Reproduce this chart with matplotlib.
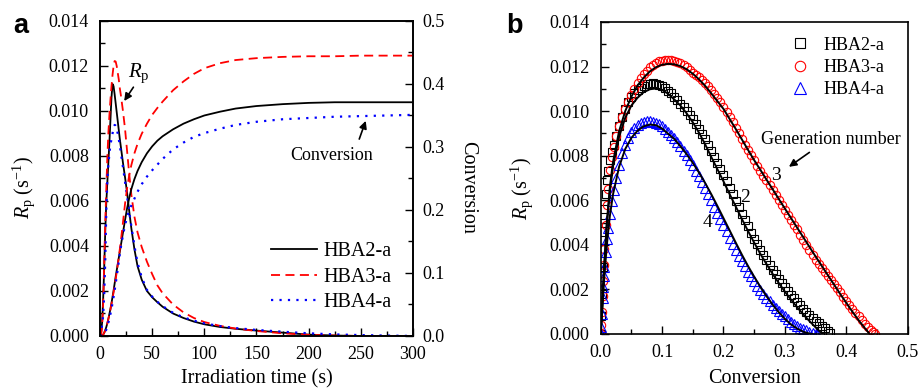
import numpy as np
import matplotlib
matplotlib.use('Agg')
import matplotlib.pyplot as plt
from matplotlib.ticker import MultipleLocator, FormatStrFormatter

plt.rcParams['font.family'] = ['Liberation Serif', 'DejaVu Serif']
plt.rcParams['mathtext.fontset'] = 'custom'
plt.rcParams['mathtext.rm'] = 'Liberation Serif'
plt.rcParams['mathtext.it'] = 'Liberation Serif:italic'

# ---- panel a : Rp (x1e-3 s^-1) and conversion vs irradiation time ----
t = [0, 1, 2, 3, 4, 5, 6, 7, 8, 9, 10, 11, 12, 13, 14, 15, 16, 17, 18, 19, 20,
     22, 24, 26, 28, 30, 33, 36, 40, 45, 50, 55, 60, 70, 80, 90, 100,
     115, 130, 150, 175, 200, 225, 250, 275, 300]

rp2 = [0.0, 0.1, 0.6, 1.6, 3.0, 4.6, 5.9, 6.8, 7.7, 8.6, 9.6, 10.6, 11.2, 11.1, 10.75, 10.35, 9.95, 9.55, 9.15, 8.75, 8.4,
       7.7, 7.05, 6.35, 5.55, 4.8, 3.85, 3.1, 2.5, 2.0, 1.72, 1.5, 1.3, 1.0, 0.8, 0.64, 0.52,
       0.4, 0.32, 0.24, 0.15, 0.06, 0.02, 0.0, 0.0, 0.0]
rp3 = [0.0, 0.05, 0.4, 1.4, 3.2, 5.0, 6.5, 7.9, 9.0, 9.8, 10.5, 11.1, 11.6, 12.0, 12.22, 12.2, 12.0, 11.7, 11.4, 11.0, 10.7,
       10.0, 9.2, 8.2, 7.2, 6.3, 5.3, 4.6, 3.95, 3.3, 2.75, 2.25, 1.9, 1.4, 1.05, 0.8, 0.62,
       0.45, 0.33, 0.22, 0.12, 0.05, 0.02, 0.0, 0.0, 0.0]
rp4 = [0.0, 0.1, 0.5, 0.9, 1.8, 3.3, 5.5, 6.9, 7.6, 8.1, 8.5, 8.75, 9.0, 9.25, 9.38, 9.35, 9.2, 9.0, 8.75, 8.45, 8.15,
       7.5, 6.85, 6.2, 5.5, 4.9, 4.0, 3.25, 2.6, 2.05, 1.75, 1.52, 1.33, 1.03, 0.83, 0.68, 0.56,
       0.44, 0.35, 0.27, 0.19, 0.12, 0.07, 0.04, 0.02, 0.0]

conv2 = [0.0, 0.0, 0.001, 0.002, 0.005, 0.009, 0.014, 0.020, 0.027, 0.035, 0.043, 0.052, 0.062, 0.072, 0.083, 0.094, 0.104, 0.114, 0.124, 0.134, 0.144,
         0.164, 0.184, 0.203, 0.219, 0.233, 0.249, 0.262, 0.276, 0.290, 0.301, 0.310, 0.317, 0.328, 0.337, 0.344, 0.350,
         0.356, 0.361, 0.365, 0.368, 0.370, 0.371, 0.371, 0.371, 0.371]
conv3 = [0.0, 0.0, 0.001, 0.002, 0.005, 0.009, 0.014, 0.020, 0.027, 0.034, 0.042, 0.051, 0.060, 0.069, 0.079, 0.090, 0.101, 0.113, 0.125, 0.138, 0.151,
         0.180, 0.210, 0.235, 0.255, 0.271, 0.290, 0.305, 0.321, 0.337, 0.351, 0.362, 0.372, 0.390, 0.404, 0.416, 0.425,
         0.433, 0.438, 0.441, 0.443, 0.444, 0.444, 0.445, 0.445, 0.445]
conv4 = [0.0, 0.0, 0.0, 0.001, 0.003, 0.006, 0.010, 0.015, 0.021, 0.028, 0.035, 0.043, 0.052, 0.062, 0.072, 0.083, 0.094, 0.106, 0.118, 0.130, 0.141,
         0.160, 0.176, 0.189, 0.199, 0.207, 0.218, 0.229, 0.241, 0.253, 0.263, 0.272, 0.281, 0.296, 0.307, 0.316, 0.322,
         0.329, 0.335, 0.340, 0.344, 0.346, 0.348, 0.349, 0.350, 0.351]

# ---- panel b : Rp (x1e-3) vs conversion, measured points ----
x2 = [0.0, 0.001, 0.002, 0.003, 0.004, 0.005, 0.006, 0.008, 0.010, 0.012, 0.015, 0.018, 0.021, 0.025,
      0.030, 0.035, 0.040, 0.045, 0.050, 0.055, 0.060, 0.065, 0.070, 0.075, 0.080, 0.085, 0.090, 0.095,
      0.100, 0.105, 0.110, 0.115, 0.120, 0.125, 0.130, 0.135, 0.140, 0.145, 0.150, 0.155, 0.160, 0.165,
      0.170, 0.175, 0.180, 0.185, 0.190, 0.195, 0.200, 0.205, 0.210, 0.215, 0.220, 0.225, 0.230, 0.235,
      0.240, 0.245, 0.250, 0.255, 0.260, 0.265, 0.270, 0.275, 0.280, 0.285, 0.290, 0.295, 0.300, 0.305,
      0.310, 0.315, 0.320, 0.325, 0.330, 0.335, 0.340, 0.345, 0.350, 0.355, 0.360, 0.365, 0.370, 0.374]
y2 = [0.0, 0.8, 1.8, 3.0, 4.2, 5.0, 5.6, 6.3, 6.9, 7.3, 7.8, 8.15, 8.5, 8.9,
      9.35, 9.75, 10.1, 10.4, 10.62, 10.8, 10.95, 11.06, 11.15, 11.21, 11.24, 11.25, 11.23, 11.18,
      11.11, 11.02, 10.92, 10.8, 10.65, 10.49, 10.33, 10.17, 10.0, 9.82, 9.63, 9.43, 9.21, 8.98,
      8.74, 8.49, 8.23, 7.96, 7.69, 7.41, 7.13, 6.85, 6.56, 6.27, 5.98, 5.69, 5.40, 5.11,
      4.83, 4.55, 4.28, 4.02, 3.77, 3.53, 3.30, 3.08, 2.87, 2.67, 2.48, 2.29, 2.11, 1.93,
      1.76, 1.60, 1.44, 1.29, 1.14, 1.00, 0.86, 0.73, 0.60, 0.48, 0.37, 0.26, 0.14, 0.03]

x3 = [0.0, 0.001, 0.002, 0.003, 0.004, 0.005, 0.006, 0.008, 0.010, 0.012, 0.015, 0.018, 0.021, 0.025,
      0.030, 0.035, 0.040, 0.045, 0.050, 0.055, 0.060, 0.065, 0.070, 0.075, 0.080, 0.085, 0.090, 0.095,
      0.100, 0.105, 0.110, 0.115, 0.120, 0.125, 0.130, 0.135, 0.140, 0.145, 0.150, 0.155, 0.160, 0.165,
      0.170, 0.175, 0.180, 0.185, 0.190, 0.195, 0.200, 0.205, 0.210, 0.215, 0.220, 0.225, 0.230, 0.235,
      0.240, 0.245, 0.250, 0.255, 0.260, 0.265, 0.270, 0.275, 0.280, 0.285, 0.290, 0.295, 0.300, 0.305,
      0.310, 0.315, 0.320, 0.325, 0.330, 0.335, 0.340, 0.345, 0.350, 0.355, 0.360, 0.365, 0.370, 0.375,
      0.380, 0.385, 0.390, 0.395, 0.400, 0.405, 0.410, 0.415, 0.420, 0.425, 0.430, 0.435, 0.440, 0.443, 0.446]
y3 = [0.0, 0.4, 1.0, 1.7, 2.4, 3.1, 3.8, 4.9, 5.8, 6.5, 7.35, 7.95, 8.4, 8.9,
      9.35, 9.75, 10.1, 10.42, 10.72, 11.0, 11.25, 11.47, 11.66, 11.82, 11.96, 12.07, 12.16, 12.23,
      12.27, 12.29, 12.30, 12.29, 12.26, 12.21, 12.14, 12.06, 11.96, 11.85, 11.73, 11.63, 11.52, 11.39,
      11.26, 11.11, 10.95, 10.78, 10.60, 10.40, 10.20, 9.98, 9.74, 9.50, 9.25, 9.00, 8.75, 8.50,
      8.25, 8.02, 7.79, 7.56, 7.33, 7.11, 6.89, 6.67, 6.45, 6.23, 6.01, 5.79, 5.57, 5.35,
      5.13, 4.91, 4.69, 4.46, 4.23, 4.00, 3.77, 3.54, 3.33, 3.14, 2.95, 2.77, 2.59, 2.41,
      2.23, 2.05, 1.87, 1.68, 1.50, 1.31, 1.12, 0.95, 0.79, 0.63, 0.47, 0.31, 0.16, 0.07, 0.01]

x4 = [0.0, 0.001, 0.002, 0.003, 0.004, 0.005, 0.006, 0.008, 0.010, 0.012, 0.015, 0.018, 0.021, 0.025,
      0.030, 0.035, 0.040, 0.045, 0.050, 0.055, 0.060, 0.065, 0.070, 0.075, 0.080, 0.085, 0.090, 0.095,
      0.100, 0.105, 0.110, 0.115, 0.120, 0.125, 0.130, 0.135, 0.140, 0.145, 0.150, 0.155, 0.160, 0.165,
      0.170, 0.175, 0.180, 0.185, 0.190, 0.195, 0.200, 0.205, 0.210, 0.215, 0.220, 0.225, 0.230, 0.235,
      0.240, 0.245, 0.250, 0.255, 0.260, 0.265, 0.270, 0.275, 0.280, 0.285, 0.290, 0.295, 0.300, 0.305,
      0.310, 0.315, 0.320, 0.325, 0.330, 0.335, 0.340, 0.345, 0.350, 0.353]
y4 = [0.0, 0.3, 0.9, 1.6, 2.1, 2.6, 3.0, 3.7, 4.25, 4.75, 5.4, 5.95, 6.45, 7.0,
      7.6, 8.1, 8.5, 8.8, 9.05, 9.25, 9.38, 9.47, 9.53, 9.56, 9.56, 9.53, 9.48, 9.41,
      9.32, 9.21, 9.08, 8.94, 8.78, 8.61, 8.43, 8.23, 8.02, 7.80, 7.57, 7.33, 7.08, 6.82,
      6.55, 6.28, 6.00, 5.72, 5.44, 5.16, 4.88, 4.60, 4.32, 4.05, 3.78, 3.52, 3.27, 3.03,
      2.80, 2.58, 2.37, 2.17, 1.98, 1.80, 1.63, 1.47, 1.32, 1.18, 1.04, 0.91, 0.79, 0.67,
      0.56, 0.46, 0.37, 0.29, 0.22, 0.16, 0.11, 0.06, 0.02, 0.0]

# model curves (black lines)
fx2 = [0.0, 0.002, 0.005, 0.01, 0.015, 0.02, 0.03, 0.04, 0.05, 0.06, 0.07, 0.08, 0.09, 0.10, 0.11, 0.12,
       0.13, 0.14, 0.15, 0.16, 0.17, 0.18, 0.19, 0.20, 0.21, 0.22, 0.23, 0.24, 0.25, 0.26, 0.27, 0.28,
       0.29, 0.30, 0.31, 0.32, 0.33, 0.34, 0.35, 0.358, 0.362]
fy2 = [0.0, 0.9, 2.6, 4.9, 6.4, 7.5, 8.85, 9.7, 10.25, 10.6, 10.85, 10.98, 11.02, 10.95, 10.78, 10.52,
       10.25, 9.9, 9.5, 9.04, 8.52, 7.95, 7.4, 6.85, 6.28, 5.72, 5.16, 4.62, 4.1, 3.6, 3.14, 2.7,
       2.29, 1.9, 1.54, 1.2, 0.88, 0.58, 0.3, 0.08, 0.0]
fx3 = [0.0, 0.002, 0.005, 0.01, 0.015, 0.02, 0.03, 0.04, 0.05, 0.06, 0.07, 0.08, 0.09, 0.10, 0.11, 0.12,
       0.13, 0.14, 0.15, 0.16, 0.17, 0.18, 0.19, 0.20, 0.21, 0.22, 0.23, 0.24, 0.25, 0.26, 0.27, 0.28,
       0.29, 0.30, 0.31, 0.32, 0.33, 0.34, 0.35, 0.36, 0.37, 0.38, 0.39, 0.40, 0.41, 0.42, 0.43, 0.437]
fy3 = [0.0, 1.0, 2.7, 5.0, 6.6, 7.7, 9.1, 10.0, 10.65, 11.15, 11.5, 11.78, 11.97, 12.08, 12.12, 12.1,
       12.02, 11.88, 11.68, 11.43, 11.14, 10.8, 10.45, 10.1, 9.65, 9.2, 8.73, 8.26, 7.8, 7.37, 6.93, 6.5,
       6.06, 5.63, 5.2, 4.77, 4.34, 3.91, 3.48, 3.06, 2.64, 2.22, 1.8, 1.4, 1.0, 0.62, 0.27, 0.04]
fx4 = [0.0, 0.002, 0.005, 0.01, 0.015, 0.02, 0.03, 0.04, 0.05, 0.06, 0.07, 0.08, 0.09, 0.10, 0.11, 0.12,
       0.13, 0.14, 0.15, 0.16, 0.17, 0.18, 0.19, 0.20, 0.21, 0.22, 0.23, 0.24, 0.25, 0.26, 0.27, 0.28,
       0.29, 0.30, 0.31, 0.32, 0.33, 0.34, 0.345]
fy4 = [0.0, 0.8, 2.2, 4.0, 5.3, 6.25, 7.5, 8.3, 8.8, 9.12, 9.32, 9.4, 9.37, 9.22, 8.98, 8.75,
       8.42, 8.07, 7.68, 7.25, 6.78, 6.28, 5.75, 5.2, 4.65, 4.1, 3.56, 3.05, 2.57, 2.12, 1.7, 1.32,
       0.98, 0.68, 0.43, 0.24, 0.1, 0.02, 0.0]

labels = ['HBA2-a', 'HBA3-a', 'HBA4-a']
RED = '#ff0000'
BLUE = '#0000ff'


def e3(v):
    return np.array(v) * 1e-3


def style(ax, **kw):
    ax.tick_params(which='both', direction='in', labelsize=13, width=1.0, **kw)
    ax.tick_params(which='major', length=6)
    ax.tick_params(which='minor', length=3.5)
    for s in ax.spines.values():
        s.set_linewidth(1.2)


fig = plt.figure(figsize=(9.2, 3.9), dpi=100)
ax1 = fig.add_axes([0.1087, 0.1385, 0.3402, 0.8077])
ax1r = ax1.twinx()
ax2 = fig.add_axes([0.6529, 0.1436, 0.3337, 0.8000])

# ---------------- panel a ----------------
l2, = ax1.plot(t, e3(rp2), color='k', lw=1.3)
l3, = ax1.plot(t, e3(rp3), color=RED, lw=1.3, dashes=(5, 3))
l4, = ax1.plot(t, e3(rp4), color=BLUE, lw=1.6, dashes=(1, 2.8))
ax1r.plot(t, conv2, color='k', lw=1.3)
ax1r.plot(t, conv3, color=RED, lw=1.3, dashes=(5, 3))
ax1r.plot(t, conv4, color=BLUE, lw=1.6, dashes=(1, 2.8))

ax1.set_xlim(0, 300)
ax1.set_ylim(0, 0.014)
ax1r.set_ylim(0, 0.5)
ax1.xaxis.set_major_locator(MultipleLocator(50))
ax1.xaxis.set_minor_locator(MultipleLocator(25))
ax1.yaxis.set_major_locator(MultipleLocator(0.002))
ax1.yaxis.set_minor_locator(MultipleLocator(0.001))
ax1.yaxis.set_major_formatter(FormatStrFormatter('%.3f'))
ax1r.yaxis.set_major_locator(MultipleLocator(0.1))
ax1r.yaxis.set_minor_locator(MultipleLocator(0.05))
ax1r.yaxis.set_major_formatter(FormatStrFormatter('%.1f'))
style(ax1, top=False, right=False)
style(ax1r, top=False, left=False)
ax1.tick_params(axis='y', pad=8)
ax1.tick_params(axis='x', pad=7)
ax1r.tick_params(axis='y', pad=7)

ax1.set_xlabel('Irradiation time (s)', fontsize=14.5)
ax1.xaxis.set_label_coords(0.5, -0.105)
ax1.set_ylabel(r'$R_\mathrm{p}$ (s$^{-1}$)', fontsize=14.5)
ax1.yaxis.label.set_va('center')
ax1.yaxis.set_label_coords(-0.243, 0.47)
ax1r.set_ylabel('Conversion', fontsize=14.5, rotation=270)
ax1r.yaxis.label.set_va('center')
ax1r.yaxis.set_label_coords(1.176, 0.47)

ax1.text(27, 0.01152, r'$R_\mathrm{p}$', fontsize=15, ha='left', va='baseline')
ax1.annotate('', xy=(21.7, 0.01034), xytext=(33.5, 0.01116),
             arrowprops=dict(arrowstyle='-|>', color='k', lw=1.2, mutation_scale=11))
ax1r.text(222, 0.287, 'Conversion', fontsize=13, ha='center', va='center')
ax1r.annotate('', xy=(255.6, 0.3456), xytext=(247.6, 0.3084),
              arrowprops=dict(arrowstyle='-|>', color='k', lw=1.2, mutation_scale=11))

ax1r.legend([l2, l3, l4], labels, loc='lower left', bbox_to_anchor=(0.545, 0.077),
            frameon=False, fontsize=14.5, handlelength=2.3, handletextpad=0.3,
            labelspacing=0.3, borderpad=0, borderaxespad=0)

# ---------------- panel b ----------------
ax2.plot(x2, e3(y2), ls='none', marker='s', mfc='none', mec='k', ms=5.5, mew=0.8, label=labels[0])
ax2.plot(x3, e3(y3), ls='none', marker='o', mfc='none', mec=RED, ms=6, mew=0.8, label=labels[1])
ax2.plot(x4, e3(y4), ls='none', marker='^', mfc='none', mec=BLUE, ms=6.5, mew=0.8, label=labels[2])
ax2.plot(fx2, e3(fy2), color='k', lw=1.4)
ax2.plot(fx3, e3(fy3), color='k', lw=1.4)
ax2.plot(fx4, e3(fy4), color='k', lw=1.4)

ax2.set_xlim(0, 0.5)
ax2.set_ylim(0, 0.014)
ax2.xaxis.set_major_locator(MultipleLocator(0.1))
ax2.xaxis.set_minor_locator(MultipleLocator(0.05))
ax2.xaxis.set_major_formatter(FormatStrFormatter('%.1f'))
ax2.yaxis.set_major_locator(MultipleLocator(0.002))
ax2.yaxis.set_minor_locator(MultipleLocator(0.001))
ax2.yaxis.set_major_formatter(FormatStrFormatter('%.3f'))
style(ax2, top=False, right=False)
ax2.tick_params(axis='y', pad=8)
ax2.tick_params(axis='x', pad=7)

ax2.set_xlabel('Conversion', fontsize=14.5)
ax2.xaxis.set_label_coords(0.5, -0.112)
ax2.set_ylabel(r'$R_\mathrm{p}$ (s$^{-1}$)', fontsize=14.5)
ax2.yaxis.label.set_va('center')
ax2.yaxis.set_label_coords(-0.256, 0.465)

ax2.text(0.3755, 0.00873, 'Generation number', fontsize=13, ha='center', va='center')
ax2.annotate('', xy=(0.3029, 0.00743), xytext=(0.3436, 0.00822),
             arrowprops=dict(arrowstyle='-|>', color='k', lw=1.2, mutation_scale=11))
ax2.text(0.286, 0.00713, '3', fontsize=14, ha='center', va='center')
ax2.text(0.2358, 0.00613, '2', fontsize=14, ha='center', va='center')
ax2.text(0.1734, 0.00502, '4', fontsize=14, ha='center', va='center')

ax2.legend(loc='upper left', bbox_to_anchor=(0.62, 0.953), frameon=False, fontsize=13,
           handlelength=1.0, handletextpad=0.8, labelspacing=0.3, borderpad=0,
           borderaxespad=0, markerscale=1.25, numpoints=1)

fig.text(0.0145, 0.9146, 'a', fontsize=19.5, fontweight='bold', family='Liberation Sans', va='baseline')
fig.text(0.5507, 0.9146, 'b', fontsize=19.5, fontweight='bold', family='Liberation Sans', va='baseline')

fig.savefig('out.png', dpi=100)
